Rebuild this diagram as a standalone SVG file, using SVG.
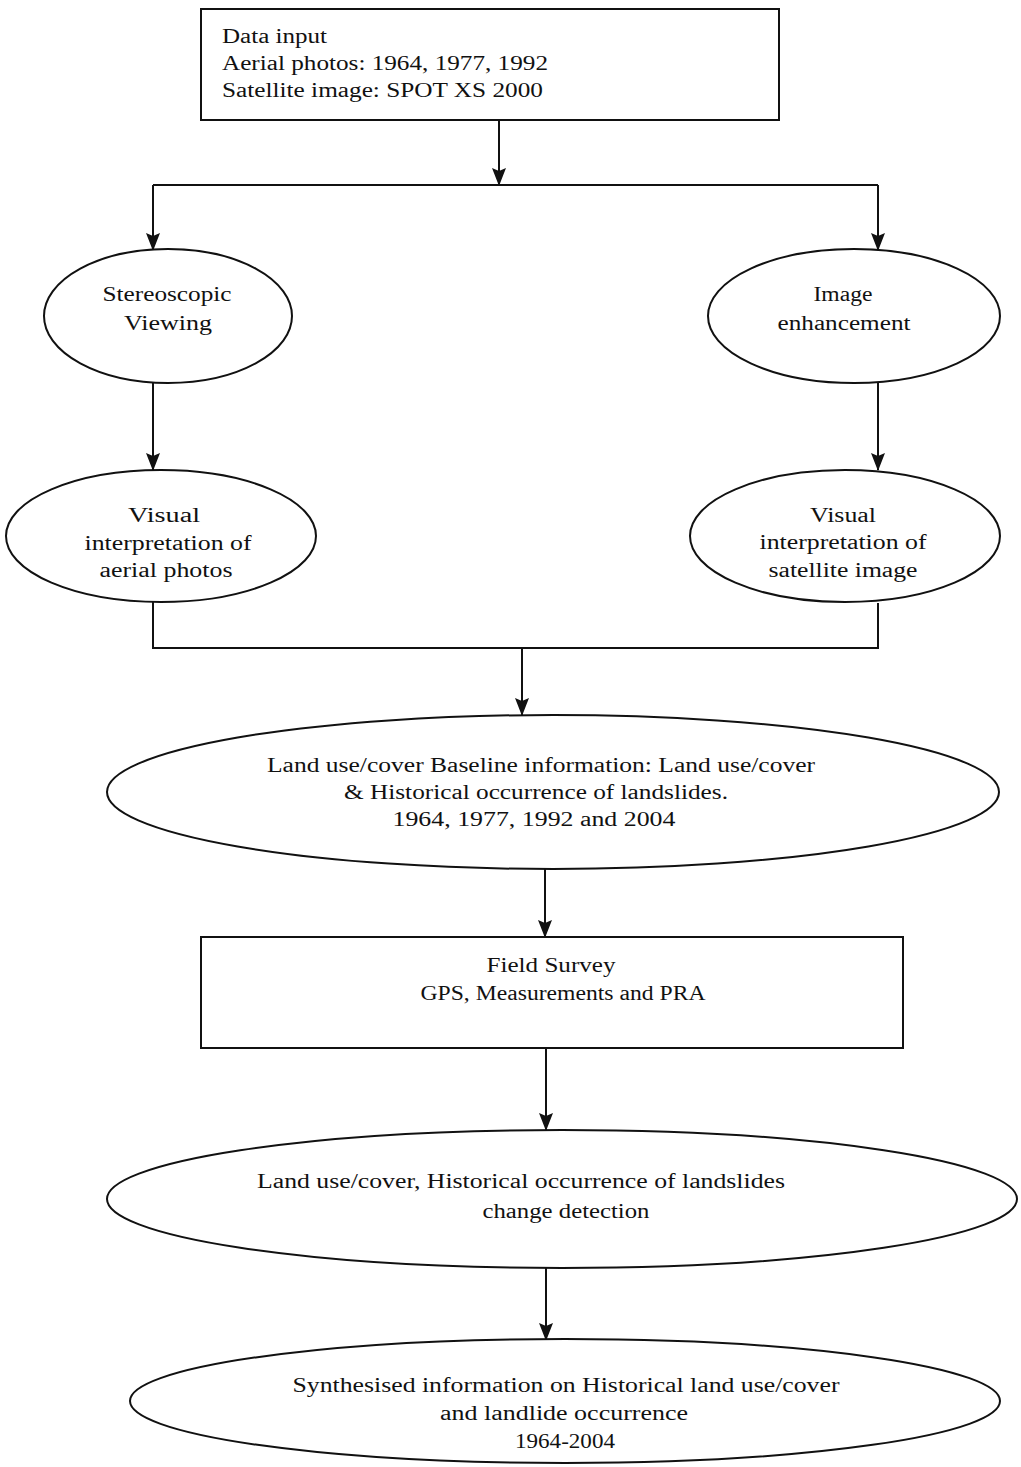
<svg xmlns="http://www.w3.org/2000/svg" width="1021" height="1467" viewBox="0 0 1021 1467">
<style>
.box{fill:#fff;stroke:#111;stroke-width:2}
.ell{fill:#fff;stroke:#111;stroke-width:2}
.con{fill:none;stroke:#111;stroke-width:2}
text{font-family:"Liberation Serif","Times New Roman",serif;font-size:20px;fill:#111}
.c{text-anchor:middle}
</style>
<defs>
<marker id="arr" markerUnits="userSpaceOnUse" markerWidth="18" markerHeight="16" refX="17" refY="8" orient="auto" viewBox="0 0 18 16">
<path d="M0,1 L3,8 L0,15 L18,8 z" fill="#111"/>
</marker>
</defs>
<rect width="1021" height="1467" fill="#fff"/>
<g id="connectors">
<path class="con" d="M499,120 V185" marker-end="url(#arr)"/>
<path class="con" d="M153,185 H878"/>
<path class="con" d="M153,185 V250" marker-end="url(#arr)"/>
<path class="con" d="M878,185 V250" marker-end="url(#arr)"/>
<path class="con" d="M153,383 V470" marker-end="url(#arr)"/>
<path class="con" d="M878,383 V470" marker-end="url(#arr)"/>
<path class="con" d="M153,602 V648 H878 V603"/>
<path class="con" d="M522,648 V715" marker-end="url(#arr)"/>
<path class="con" d="M545,869 V937" marker-end="url(#arr)"/>
<path class="con" d="M546,1048 V1130" marker-end="url(#arr)"/>
<path class="con" d="M546,1268 V1340" marker-end="url(#arr)"/>
</g>
<g id="data-input">
<rect class="box" x="201" y="9" width="578" height="111"/>
<text x="222" y="43" textLength="105" lengthAdjust="spacingAndGlyphs">Data input</text>
<text x="222" y="70" textLength="326" lengthAdjust="spacingAndGlyphs">Aerial photos: 1964, 1977, 1992</text>
<text x="222" y="97" textLength="321" lengthAdjust="spacingAndGlyphs">Satellite image: SPOT XS 2000</text>
</g>
<g id="stereoscopic">
<ellipse class="ell" cx="168" cy="316" rx="124" ry="67"/>
<text class="c" x="167" y="301" textLength="129" lengthAdjust="spacingAndGlyphs">Stereoscopic</text>
<text class="c" x="168" y="330" textLength="88" lengthAdjust="spacingAndGlyphs">Viewing</text>
</g>
<g id="image-enhancement">
<ellipse class="ell" cx="854" cy="316" rx="146" ry="67"/>
<text class="c" x="843" y="301" textLength="59" lengthAdjust="spacingAndGlyphs">Image</text>
<text class="c" x="844" y="330" textLength="133" lengthAdjust="spacingAndGlyphs">enhancement</text>
</g>
<g id="visual-aerial">
<ellipse class="ell" cx="161" cy="536" rx="155" ry="66"/>
<text class="c" x="164" y="522" textLength="72" lengthAdjust="spacingAndGlyphs">Visual</text>
<text class="c" x="168" y="550" textLength="167" lengthAdjust="spacingAndGlyphs">interpretation of</text>
<text class="c" x="166" y="577" textLength="133" lengthAdjust="spacingAndGlyphs">aerial photos</text>
</g>
<g id="visual-satellite">
<ellipse class="ell" cx="845" cy="536" rx="155" ry="66"/>
<text class="c" x="843" y="522" textLength="66" lengthAdjust="spacingAndGlyphs">Visual</text>
<text class="c" x="843" y="549" textLength="167" lengthAdjust="spacingAndGlyphs">interpretation of</text>
<text class="c" x="843" y="577" textLength="149" lengthAdjust="spacingAndGlyphs">satellite image</text>
</g>
<g id="baseline">
<ellipse class="ell" cx="553" cy="792" rx="446" ry="77"/>
<text class="c" x="541" y="772" textLength="548" lengthAdjust="spacingAndGlyphs">Land use/cover Baseline information: Land use/cover</text>
<text class="c" x="536" y="799" textLength="384" lengthAdjust="spacingAndGlyphs">&amp; Historical occurrence of landslides.</text>
<text class="c" x="534" y="826" textLength="283" lengthAdjust="spacingAndGlyphs">1964, 1977, 1992 and 2004</text>
</g>
<g id="field-survey">
<rect class="box" x="201" y="937" width="702" height="111"/>
<text class="c" x="551" y="972" textLength="129" lengthAdjust="spacingAndGlyphs">Field Survey</text>
<text class="c" x="563" y="1000" textLength="285" lengthAdjust="spacingAndGlyphs">GPS, Measurements and PRA</text>
</g>
<g id="change-detection">
<ellipse class="ell" cx="562" cy="1199" rx="455" ry="69"/>
<text class="c" x="521" y="1188" textLength="528" lengthAdjust="spacingAndGlyphs">Land use/cover, Historical occurrence of landslides</text>
<text class="c" x="566" y="1218" textLength="167" lengthAdjust="spacingAndGlyphs">change detection</text>
</g>
<g id="synthesis">
<ellipse class="ell" cx="565" cy="1401" rx="435" ry="62"/>
<text class="c" x="566" y="1392" textLength="547" lengthAdjust="spacingAndGlyphs">Synthesised information on Historical land use/cover</text>
<text class="c" x="564" y="1420" textLength="248" lengthAdjust="spacingAndGlyphs">and landlide occurrence</text>
<text class="c" x="565" y="1448" textLength="100" lengthAdjust="spacingAndGlyphs">1964-2004</text>
</g>
</svg>
